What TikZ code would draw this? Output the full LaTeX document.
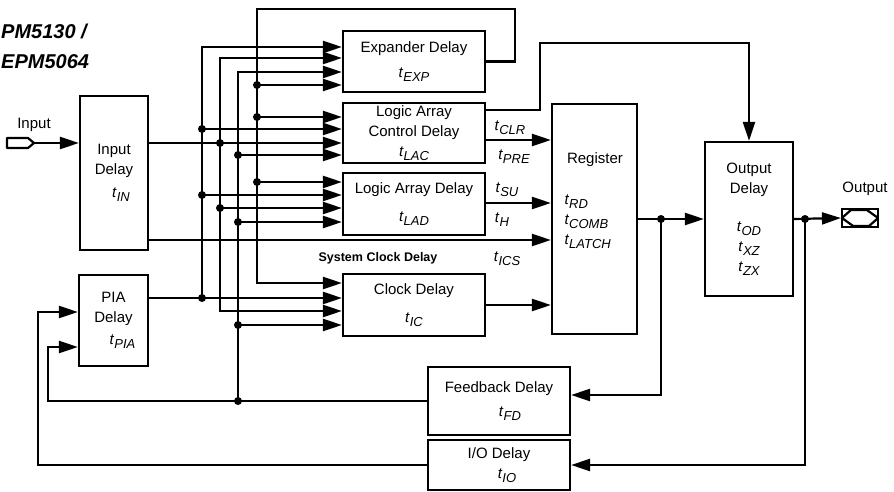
\documentclass[tikz,border=0pt]{standalone}
\usepackage{fontspec}
\setmainfont{Liberation Sans}
\usetikzlibrary{arrows.meta}

\tikzset{
  box/.style={draw, line width=2.2pt, align=center, inner sep=0pt},
  wire/.style={line width=2.2pt},
  arr/.style={wire, -{Triangle[length=19pt, width=12pt]}},
  dot/.style={circle, fill, inner sep=0pt, minimum size=8pt},
}
\newcommand{\tsub}[1]{\textit{t}\raisebox{-4pt}{\fontsize{13}{13}\selectfont\itshape #1}}

\begin{document}
\begin{tikzpicture}[x={(1pt,0pt)}, y={(0pt,-1pt)}, font=\fontsize{15}{20}\selectfont]
  \useasboundingbox (0,0) rectangle (894,492);
  \node[anchor=west, inner sep=1pt, font=\fontsize{20}{20}\selectfont\bfseries\itshape] (title1) at (0,31) {PM5130 /};
  \node[anchor=west, inner sep=1pt, font=\fontsize{20}{20}\selectfont\bfseries\itshape] (title2) at (0,62) {EPM5064};

  % delay blocks
  \node[box, minimum width=68pt, minimum height=154pt] (indly) at (114,173) {Input\\Delay\\[3pt]\hspace*{14pt}\tsub{IN}};
  \node[box, minimum width=69pt, minimum height=91pt] (pia) at (113.5,320.5) {PIA\\Delay\\[2pt]\hspace*{18pt}\tsub{PIA}};
  \node[box, minimum width=142pt, minimum height=61pt] (exp) at (414,61.5) {Expander Delay\\[5pt]\tsub{EXP}};
  \node[box, minimum width=142pt, minimum height=60pt] (lac) at (414,133) {Logic Array\\Control Delay\\\tsub{LAC}};
  \node[box, minimum width=142pt, minimum height=62pt] (lad) at (414,204) {Logic Array Delay\\[8pt]\tsub{LAD}};
  \node[box, minimum width=142pt, minimum height=62pt] (clk) at (414,305) {Clock Delay\\[8pt]\tsub{IC}};
  \node[box, minimum width=85pt, minimum height=230pt] (reg) at (594.5,219) {};
  \node (regname) at (595,160) {Register};
  \node[anchor=west, align=left] (regt) at (561,222) {\tsub{RD}\\\tsub{COMB}\\\tsub{LATCH}};
  \node[box, minimum width=88pt, minimum height=154pt] (outd) at (749,219) {Output\\Delay\\[18pt]\tsub{OD}\\\tsub{XZ}\\\tsub{ZX}};
  \node[box, minimum width=142pt, minimum height=68pt] (fbd) at (499,401) {Feedback Delay\\[4pt]\hspace*{22pt}\tsub{FD}};
  \node[box, minimum width=142pt, minimum height=50pt] (iod) at (499,465) {I/O Delay\\\hspace*{16pt}\tsub{IO}};

  % pins
  \draw[wire, line join=round] (7,138) -- (28,138) -- (34,143) -- (28,148) -- (7,148) -- cycle;
  \coordinate (inpin) at (34,143);
  \node (inlbl) at (34,125) {Input};
  \node[draw, line width=2.2pt, minimum width=36pt, minimum height=18pt, inner sep=0pt] (outpin) at (860,218) {};
  \draw[wire, line join=bevel] ([xshift=1pt]outpin.west) -- ++(9,-8) -- ++(16,0)
    -- ([xshift=-1pt]outpin.east) -- ++(-9,8) -- ++(-16,0) -- cycle;
  \node (outlbl) at (865,189) {Output};

  % signal names
  \node (lclr) at (510,128) {\tsub{CLR}};
  \node (lpre) at (514,157) {\tsub{PRE}};
  \node (lsu) at (507,190) {\tsub{SU}};
  \node (lh) at (502,220) {\tsub{H}};
  \node (lics) at (507,259) {\tsub{ICS}};
  \node[font=\fontsize{12.5}{14}\selectfont\bfseries] (sysclk) at (378,258) {System Clock Delay};

  % interconnect
  \draw[arr] (inpin) -- (indly.west |- inpin);
  \draw[arr] (pia.east |- 0,298) -- (clk.west |- 0,298);
  \draw[arr] (202,298) |- (exp.west |- 0,47);
  \draw[arr] (indly.east |- 0,143) -- (lac.west |- 0,143);
  \draw[arr] (220,143) |- (exp.west |- 0,58);
  \draw[arr] (220,143) |- (clk.west |- 0,311);
  \draw[arr] (fbd.west) -| (48,347) -- (pia.west |- 0,347);
  \draw[arr] (238,401) |- (exp.west |- 0,72);
  \draw[arr] (exp.east) -| (515,9) -| (257,283) -- (clk.west |- 0,283);
  \draw[arr] (iod.west) -| (38,312) -- (pia.west |- 0,312);
  \foreach \x/\y/\b in {202/129/lac, 202/195/lad, 220/208/lad, 238/155/lac, 238/222/lad,
                        238/325/clk, 257/85/exp, 257/117/lac, 257/182/lad}
    \draw[arr] (\x,\y) -- (\b.west |- \x,\y);

  % register and output side
  \draw[arr] (indly.east |- 0,240) -- (reg.west |- 0,240);
  \draw[arr] (lac.east |- 0,140) -- (reg.west |- 0,140);
  \draw[arr] (lad.east |- 0,203) -- (reg.west |- 0,203);
  \draw[arr] (clk.east) -- (reg.west |- clk.east);
  \draw[arr] (lac.east |- 0,110) -| (540,43) -| (outd.north);
  \draw[arr] (reg.east) -- (outd.west);
  \draw[arr] (661,219) |- (fbd.east |- 0,395);
  \draw[arr] (outd.east) -- (outpin.west);
  \draw[arr] (805,219) |- (iod.east);

  \foreach \x/\y in {202/298, 202/129, 202/195, 220/143, 220/208, 238/155, 238/222,
                     238/325, 238/401, 257/85, 257/117, 257/182, 661/219, 805/219}
    \node[dot] (d\x-\y) at (\x,\y) {};
\end{tikzpicture}
\end{document}
